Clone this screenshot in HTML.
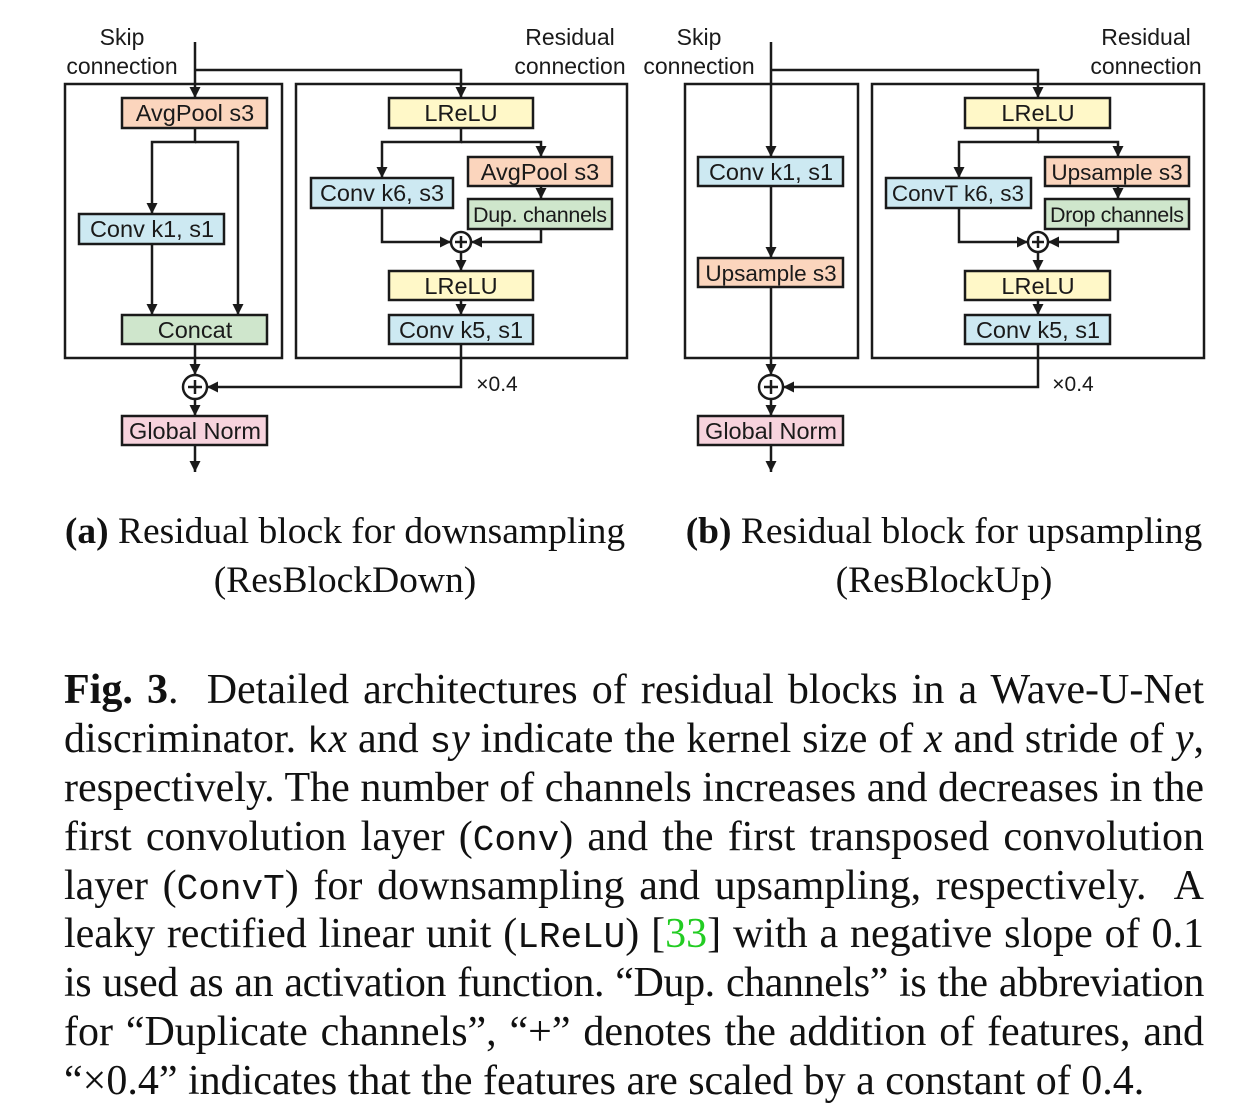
<!DOCTYPE html>
<html><head><meta charset="utf-8">
<style>
body{margin:0;background:#fff;width:1234px;height:1116px;position:relative;overflow:hidden}
svg{position:absolute;left:0;top:0}
.sub{position:absolute;font-family:"Liberation Serif",serif;font-size:37.5px;color:#111;text-align:center;line-height:49px}
.cap{position:absolute;left:64px;width:1140px;top:666px;font-family:"Liberation Serif",serif;font-size:42px;color:#111;line-height:48.9px}
.cap div{height:48.9px;text-align:justify;text-align-last:justify;white-space:nowrap}
.cap div.l{text-align-last:left}
.m{font-family:"Liberation Mono",monospace;font-size:36px;line-height:0}
</style></head><body>
<svg width="1234" height="1116" viewBox="0 0 1234 1116" font-family="Liberation Sans, sans-serif">
<defs><marker id="a" markerUnits="userSpaceOnUse" markerWidth="12" markerHeight="12" refX="11" refY="6" orient="auto"><path d="M0,0.5 L11,6 L0,11.5 z" fill="#1a1a1a"/></marker></defs>
<g font-size="23" fill="#1a1a1a" text-anchor="middle">
<text x="122" y="45">Skip</text><text x="122" y="74">connection</text>
<text x="570" y="45">Residual</text><text x="570" y="74">connection</text>
<text x="699" y="45">Skip</text><text x="699" y="74">connection</text>
<text x="1146" y="45">Residual</text><text x="1146" y="74">connection</text>
</g>
<g fill="none" stroke="#1a1a1a" stroke-width="2.5">
<rect x="65" y="84" width="217" height="274"/><rect x="296" y="84" width="331" height="274"/>
<rect x="685" y="84" width="173" height="274"/><rect x="872" y="84" width="332" height="274"/>
</g>
<g fill="none" stroke="#1a1a1a" stroke-width="2.5" marker-end="url(#a)">
<path d="M195,42 V98"/><path d="M195,70 H461 V98"/>
<path d="M195,128 V142 H152 V214"/><path d="M195,142 H238 V315"/>
<path d="M152,244 V315"/><path d="M195,344 V375"/><path d="M195,399 V416"/><path d="M195,445 V472"/>
<path d="M461,128 V142 H382 V178"/><path d="M461,142 H541 V157"/><path d="M541,186 V199"/>
<path d="M382,208 V242 H451"/><path d="M541,229 V242 H471"/>
<path d="M461,252 V271"/><path d="M461,300 V315"/><path d="M461,344 V387 H207"/>
<path d="M771,42 V157"/><path d="M771,70 H1038 V98"/>
<path d="M771,186 V258"/><path d="M771,287 V375"/><path d="M771,399 V416"/><path d="M771,445 V472"/>
<path d="M1038,128 V142 H959 V178"/><path d="M1038,142 H1118 V157"/><path d="M1118,186 V199"/>
<path d="M959,208 V242 H1028"/><path d="M1118,229 V242 H1048"/>
<path d="M1038,252 V271"/><path d="M1038,300 V315"/><path d="M1038,344 V387 H783"/>
</g>
<g fill="#fff" stroke="#1a1a1a" stroke-width="2.5">
<circle cx="195" cy="387" r="12"/><circle cx="461" cy="242" r="10"/>
<circle cx="771" cy="387" r="12"/><circle cx="1038" cy="242" r="10"/>
</g>
<g stroke="#1a1a1a" stroke-width="2.5">
<path d="M188,387 H202 M195,380 V394"/><path d="M455,242 H467 M461,236 V248"/>
<path d="M764,387 H778 M771,380 V394"/><path d="M1032,242 H1044 M1038,236 V248"/>
</g>
<g stroke="#1a1a1a" stroke-width="2.5">
<rect x="122" y="98" width="145" height="30" fill="#fbd5bd"/>
<rect x="79" y="214" width="145" height="30" fill="#cde9f2"/>
<rect x="122" y="315" width="145" height="29" fill="#cfe6cc"/>
<rect x="122" y="416" width="145" height="29" fill="#f7d3dd"/>
<rect x="389" y="98" width="144" height="30" fill="#fff8c8"/>
<rect x="311" y="178" width="142" height="30" fill="#cde9f2"/>
<rect x="468" y="157" width="144" height="29" fill="#fbd5bd"/>
<rect x="468" y="199" width="144" height="30" fill="#cfe6cc"/>
<rect x="389" y="271" width="144" height="29" fill="#fff8c8"/>
<rect x="389" y="315" width="144" height="29" fill="#cde9f2"/>
<rect x="698" y="157" width="145" height="29" fill="#cde9f2"/>
<rect x="698" y="258" width="145" height="29" fill="#fbd5bd"/>
<rect x="698" y="416" width="145" height="29" fill="#f7d3dd"/>
<rect x="965" y="98" width="145" height="30" fill="#fff8c8"/>
<rect x="886" y="178" width="145" height="30" fill="#cde9f2"/>
<rect x="1045" y="157" width="144" height="29" fill="#fbd5bd"/>
<rect x="1045" y="199" width="144" height="30" fill="#cfe6cc"/>
<rect x="965" y="271" width="145" height="29" fill="#fff8c8"/>
<rect x="965" y="315" width="145" height="29" fill="#cde9f2"/>
</g>
<g font-size="23.5" fill="#1a1a1a" text-anchor="middle">
<text x="195" y="121">AvgPool s3</text>
<text x="152" y="237">Conv k1, s1</text>
<text x="195" y="338">Concat</text>
<text x="195" y="439">Global Norm</text>
<text x="461" y="121">LReLU</text>
<text x="382" y="201">Conv k6, s3</text>
<text x="540" y="180">AvgPool s3</text>
<text x="540" y="222" font-size="21.5" textLength="134">Dup. channels</text>
<text x="461" y="294">LReLU</text>
<text x="461" y="338">Conv k5, s1</text>
<text x="497" y="391" font-size="21">×0.4</text>
<text x="771" y="180">Conv k1, s1</text>
<text x="771" y="281" font-size="22.5">Upsample s3</text>
<text x="771" y="439">Global Norm</text>
<text x="1038" y="121">LReLU</text>
<text x="958" y="201" font-size="22.5">ConvT k6, s3</text>
<text x="1117" y="180" font-size="22.5">Upsample s3</text>
<text x="1117" y="222" font-size="21.5" textLength="134">Drop channels</text>
<text x="1038" y="294">LReLU</text>
<text x="1038" y="338">Conv k5, s1</text>
<text x="1073" y="391" font-size="21">×0.4</text>
</g>
</svg>
<div class="sub" style="left:45px;width:600px;top:507px"><b>(a)</b> Residual block for downsampling<br>(ResBlockDown)</div>
<div class="sub" style="left:644px;width:600px;top:507px"><b>(b)</b> Residual block for upsampling<br>(ResBlockUp)</div>
<div class="cap">
<div><b>Fig. 3</b>.&nbsp; Detailed architectures of residual blocks in a Wave-U-Net</div>
<div>discriminator. <span class="m">k</span><i>x</i> and <span class="m">s</span><i>y</i> indicate the kernel size of <i>x</i> and stride of <i>y</i>,</div>
<div>respectively. The number of channels increases and decreases in the</div>
<div>first convolution layer (<span class="m">Conv</span>) and the first transposed convolution</div>
<div>layer (<span class="m">ConvT</span>) for downsampling and upsampling, respectively.&nbsp; A</div>
<div>leaky rectified linear unit (<span class="m">LReLU</span>) [<span style="color:#22cc22">33</span>] with a negative slope of 0.1</div>
<div style="letter-spacing:-0.4px;word-spacing:-1px">is used as an activation function. “Dup. channels” is the abbreviation</div>
<div>for “Duplicate channels”, “+” denotes the addition of features, and</div>
<div class="l">“×0.4” indicates that the features are scaled by a constant of 0.4.</div>
</div>
</body></html>
